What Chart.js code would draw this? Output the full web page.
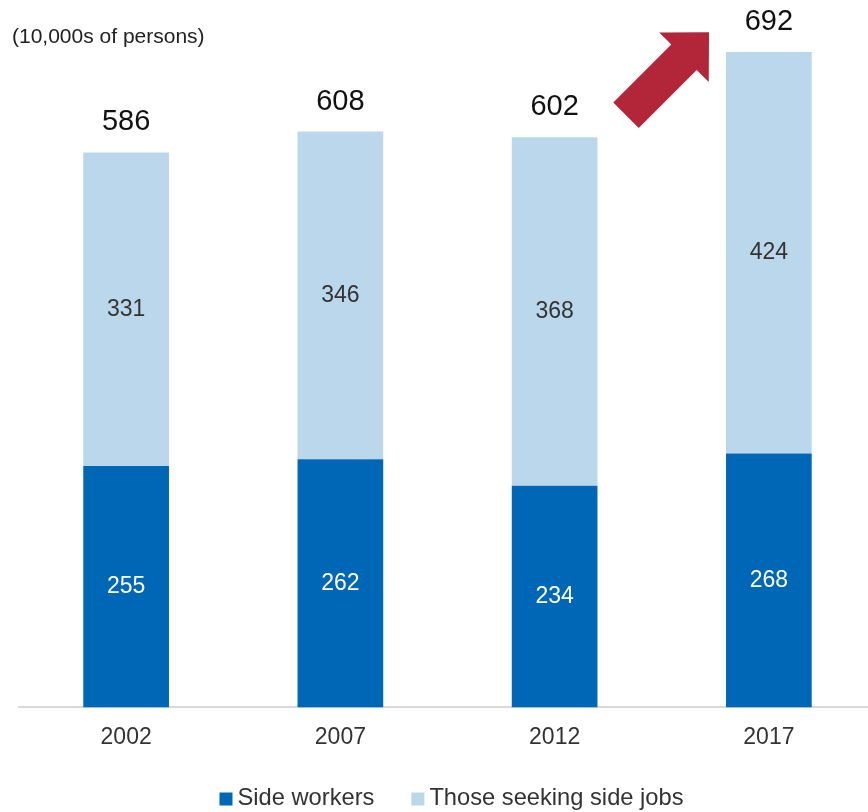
<!DOCTYPE html>
<html>
<head>
<meta charset="utf-8">
<script src="https://cdn.jsdelivr.net/npm/chart.js@4.4.1/dist/chart.umd.min.js"></script>
<style>
  html, body { margin: 0; padding: 0; background: #fff; overflow: hidden; }
  #wrap { width: 868px; height: 812px; overflow: hidden; }
  canvas { display: block; }
</style>
</head>
<body>
<div id="wrap"><canvas id="sideJobs" width="876" height="812"></canvas></div>
<script>
const years = ['2002', '2007', '2012', '2017'];
const sideWorkers = [255, 262, 234, 268];
const seekingSideJobs = [331, 346, 368, 424];
const unitLabel = '(10,000s of persons)';
const seriesNames = ['Side workers', 'Those seeking side jobs'];
const seriesColors = ['#0067B6', '#BBD7EB'];

const totals = years.map((_, i) => sideWorkers[i] + seekingSideJobs[i]);
const FONT = '"Liberation Sans", Arial, sans-serif';

// value labels inside each segment and totals above the stacks
const barLabels = {
  id: 'barLabels',
  afterDatasetsDraw(chart) {
    const ctx = chart.ctx;
    ctx.save();
    ctx.textAlign = 'center';
    ctx.textBaseline = 'middle';
    ctx.font = '23px ' + FONT;
    chart.data.datasets.forEach((ds, i) => {
      chart.getDatasetMeta(i).data.forEach((bar, j) => {
        const { x, y, base } = bar.getProps(['x', 'y', 'base'], true);
        ctx.fillStyle = i === 0 ? '#ffffff' : '#333333';
        ctx.fillText(ds.data[j], x, (y + base) / 2);
      });
    });
    const topMeta = chart.getDatasetMeta(chart.data.datasets.length - 1);
    ctx.font = '29px ' + FONT;
    ctx.fillStyle = '#111111';
    topMeta.data.forEach((bar, j) => {
      ctx.fillText(totals[j], bar.x, bar.y - 30);
    });
    ctx.restore();
  }
};

// red arrow pointing at the latest stack
const growthArrow = {
  id: 'growthArrow',
  afterDraw(chart) {
    const last = chart.getDatasetMeta(1).data[years.length - 1];
    const tipX = last.x - last.width / 2 - 17;
    const tipY = chart.scales.y.getPixelForValue(713);
    const ctx = chart.ctx;
    ctx.save();
    ctx.translate(tipX, tipY);
    ctx.rotate(-Math.PI / 4);
    ctx.beginPath();
    ctx.moveTo(0, 0);
    ctx.lineTo(-35.4, -35);
    ctx.lineTo(-35.4, -18);
    ctx.lineTo(-117.4, -18);
    ctx.lineTo(-117.4, 18);
    ctx.lineTo(-35.4, 18);
    ctx.lineTo(-35.4, 35);
    ctx.closePath();
    ctx.fillStyle = '#B3263A';
    ctx.fill();
    ctx.restore();
  }
};

// unit caption and the legend row at the bottom
const captions = {
  id: 'captions',
  afterDraw(chart) {
    const ctx = chart.ctx;
    const area = chart.chartArea;
    ctx.save();
    ctx.textBaseline = 'middle';
    ctx.textAlign = 'left';
    ctx.fillStyle = '#222222';
    ctx.font = '21px ' + FONT;
    ctx.fillText(unitLabel, 12, 37);

    ctx.font = '23.7px ' + FONT;
    const box = 13, boxGap = 5, itemGap = 37;
    const widths = seriesNames.map(t => ctx.measureText(t).width);
    const total = widths.reduce((s, w) => s + box + boxGap + w, 0) + itemGap * (seriesNames.length - 1);
    let x = (area.left + area.right) / 2 + 4 - total / 2;
    const y = chart.height - 14;
    seriesNames.forEach((name, i) => {
      ctx.fillStyle = seriesColors[i];
      ctx.fillRect(x, y - box / 2 + 1, box, box);
      x += box + boxGap;
      ctx.fillStyle = '#333333';
      ctx.fillText(name, x, y);
      x += widths[i] + itemGap;
    });
    ctx.restore();
  }
};

new Chart(document.getElementById('sideJobs'), {
  type: 'bar',
  data: {
    labels: years,
    datasets: [{
      label: seriesNames[0],
      data: sideWorkers,
      backgroundColor: seriesColors[0],
    }, {
      label: seriesNames[1],
      data: seekingSideJobs,
      backgroundColor: seriesColors[1],
    }],
  },
  options: {
    responsive: false,
    animation: false,
    layout: { padding: { left: 19, top: 44.5, right: 0, bottom: 44 } },
    datasets: { bar: { categoryPercentage: 1, barPercentage: 0.4 } },
    scales: {
      x: {
        stacked: true,
        grid: { display: false, drawTicks: false },
        border: { color: '#d9d9d9', width: 2 },
        ticks: { padding: 16.5, color: '#333333', font: { size: 23, family: FONT } },
      },
      y: { stacked: true, display: false, min: 0, max: 700 },
    },
    plugins: {
      legend: { display: false },
      tooltip: { enabled: false },
    },
  },
  plugins: [barLabels, growthArrow, captions],
});
</script>
</body>
</html>
